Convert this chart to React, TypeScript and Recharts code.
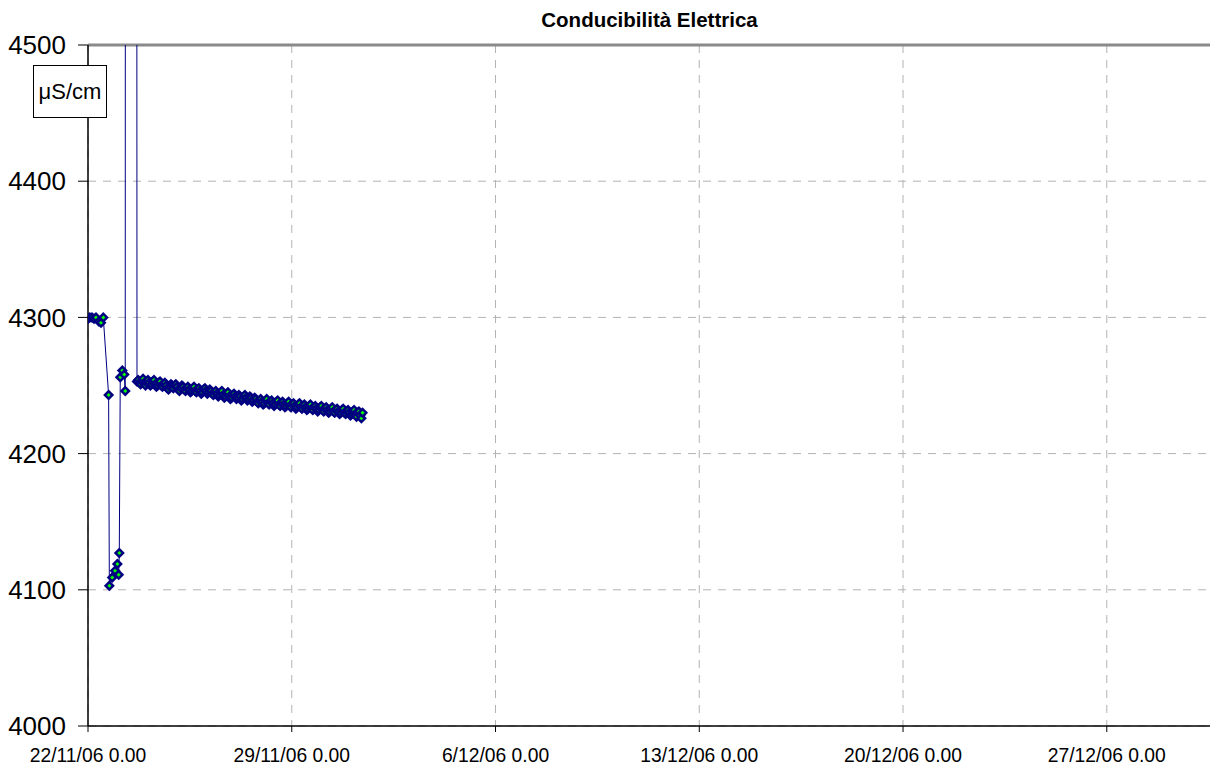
import React from 'react';
import { LineChart, Line, XAxis, YAxis, CartesianGrid, ReferenceLine } from 'recharts';

// Hours elapsed since 22/11/06 0.00
const earlyHours = [0, 1.5, 3.3, 5, 6.6, 9, 10.7, 12.6, 17, 17.6, 20, 22.3, 24.2, 25.3, 25.8, 26.6, 28.3, 29.9, 30.7, 31.1, 39.8];
const earlyValues = [4299, 4300, 4300, 4299, 4300, 4297, 4296, 4300, 4243, 4103, 4109, 4114, 4119, 4111, 4127, 4256, 4261, 4258, 4246, 5600, 5600];

// Hourly readings from hour 40.4 onwards
const bandStartHour = 40.4;
const bandStepHours = 1;
const bandValues = [
  4253, 4254, 4252, 4251, 4253, 4255, 4252, 4250, 4252, 4254,
  4252, 4250, 4251, 4253, 4254, 4251, 4249, 4250, 4252, 4253,
  4250, 4249, 4251, 4252, 4250, 4248, 4247, 4249, 4251, 4250,
  4248, 4250, 4251, 4249, 4247, 4246, 4248, 4250, 4249, 4247,
  4246, 4248, 4249, 4247, 4245, 4246, 4248, 4249, 4246, 4245,
  4247, 4248, 4246, 4244, 4245, 4247, 4248, 4246, 4244, 4245,
  4247, 4246, 4244, 4243, 4245, 4246, 4244, 4242, 4243, 4245,
  4246, 4243, 4241, 4242, 4244, 4245, 4242, 4240, 4241, 4243,
  4244, 4242, 4240, 4241, 4243, 4242, 4239, 4240, 4242, 4243,
  4241, 4239, 4240, 4242, 4241, 4238, 4239, 4241, 4240, 4238,
  4237, 4239, 4240, 4238, 4236, 4237, 4239, 4240, 4237, 4236,
  4238, 4239, 4237, 4235, 4236, 4238, 4239, 4236, 4235, 4237,
  4238, 4236, 4234, 4235, 4237, 4238, 4235, 4234, 4236, 4237,
  4235, 4233, 4234, 4236, 4237, 4234, 4233, 4235, 4236, 4234,
  4232, 4233, 4235, 4236, 4233, 4232, 4234, 4235, 4233, 4231,
  4232, 4234, 4235, 4232, 4231, 4233, 4234, 4232, 4230, 4231,
  4233, 4234, 4231, 4230, 4232, 4233, 4231, 4229, 4230, 4232,
  4233, 4230, 4229, 4231, 4232, 4230, 4228, 4229, 4231, 4232,
  4229, 4227, 4230, 4231, 4228, 4226, 4230,
];

const xTicks = [0, 168, 336, 504, 672, 840];
const xTickLabels = ['22/11/06 0.00', '29/11/06 0.00', '6/12/06 0.00', '13/12/06 0.00', '20/12/06 0.00', '27/12/06 0.00'];
const yTicks = [4000, 4100, 4200, 4300, 4400, 4500];

const title = 'Conducibilità Elettrica';
const unitLabel = 'μS/cm';

const data = [
  ...earlyHours.map((t, i) => ({ t, v: earlyValues[i] })),
  ...bandValues.map((v, i) => ({ t: bandStartHour + i * bandStepHours, v })),
];

const FONT = '"Liberation Sans", Arial, Helvetica, sans-serif';

const Diamond = (props: any) => {
  const { cx, cy, index } = props;
  if (cx == null || cy == null) return <g key={`d-${index}`} />;
  const o = 5.5;
  const n = 2;
  return (
    <g key={`d-${index}`}>
      <polygon points={`${cx},${cy - o} ${cx + o},${cy} ${cx},${cy + o} ${cx - o},${cy}`} fill="#000080" />
      <polygon points={`${cx},${cy - n} ${cx + n},${cy} ${cx},${cy + n} ${cx - n},${cy}`} fill="#00ff00" />
    </g>
  );
};

export default function App() {
  return (
    <div style={{ position: 'relative', width: 1218, height: 771, margin: -8, overflow: 'hidden', fontFamily: FONT }}>
      <div
        style={{
          position: 'absolute',
          top: 10,
          left: 649.5,
          transform: 'translateX(-50%)',
          fontSize: 20.5,
          lineHeight: '20px',
          fontWeight: 'bold',
          whiteSpace: 'nowrap',
          color: '#000',
        }}
      >
        {title}
      </div>
      <LineChart width={1218} height={771} data={data} margin={{ top: 45, right: 0, left: 0, bottom: 0 }}>
        <CartesianGrid stroke="#b3b3b3" strokeDasharray="8 7" />
        <ReferenceLine y={4500} stroke="#8a8a8a" strokeWidth={3} />
        <XAxis
          type="number"
          dataKey="t"
          domain={[0, 931.7]}
          ticks={xTicks}
          interval={0}
          allowDataOverflow
          height={45}
          tickSize={6}
          tickMargin={16}
          axisLine={{ stroke: '#000', strokeWidth: 1.5 }}
          tickLine={{ stroke: '#000' }}
          tick={{ fill: '#000', fontSize: 19.3, fontFamily: FONT }}
          tickFormatter={(v: number) => xTickLabels[xTicks.indexOf(v)] ?? ''}
        />
        <YAxis
          type="number"
          domain={[4000, 4500]}
          ticks={yTicks}
          interval={0}
          allowDataOverflow
          width={88}
          tickSize={10}
          tickMargin={12}
          axisLine={{ stroke: '#000', strokeWidth: 1.5 }}
          tickLine={{ stroke: '#000' }}
          tick={{ fill: '#000', fontSize: 26, fontFamily: FONT }}
        />
        <Line
          type="linear"
          dataKey="v"
          stroke="#000080"
          strokeWidth={1}
          dot={(p: any) => <Diamond {...p} key={`d-${p.index}`} />}
          activeDot={false}
          isAnimationActive={false}
        />
      </LineChart>
      <div
        style={{
          position: 'absolute',
          left: 33,
          top: 65,
          width: 74,
          height: 53,
          boxSizing: 'border-box',
          border: '1px solid #000',
          background: '#fff',
          fontSize: 22,
          lineHeight: '51px',
          textAlign: 'center',
          color: '#000',
        }}
      >
        {unitLabel}
      </div>
    </div>
  );
}
